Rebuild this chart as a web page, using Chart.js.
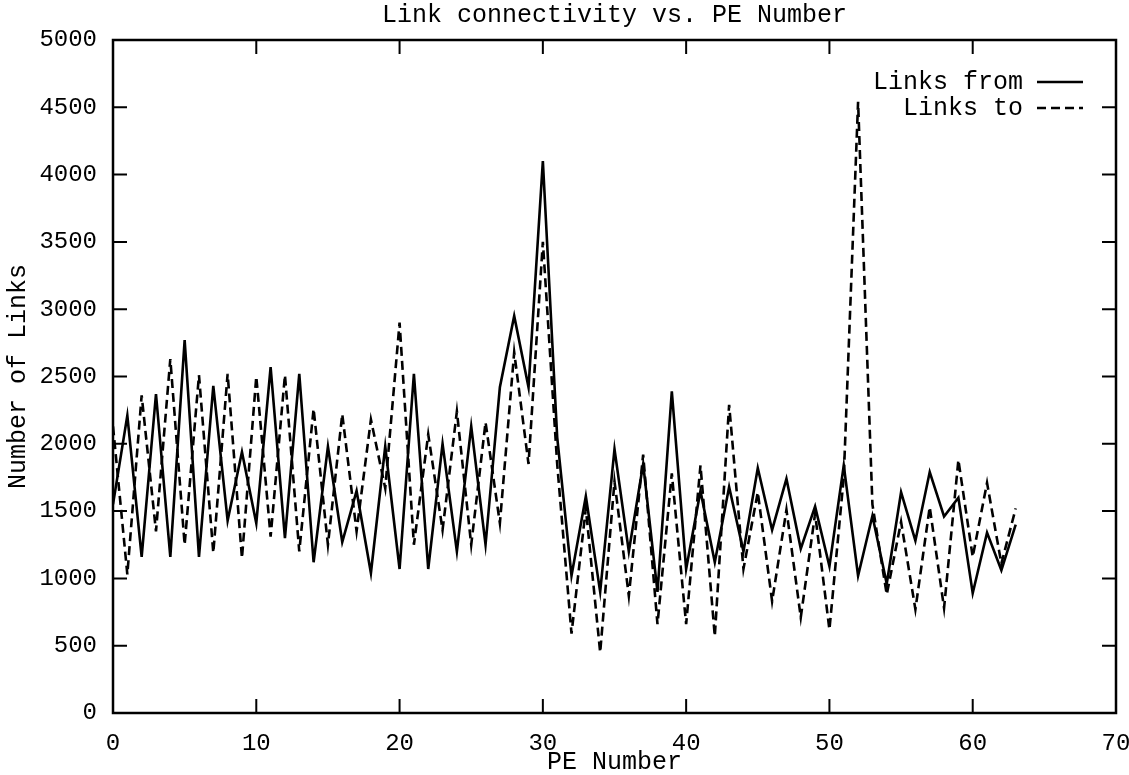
<!DOCTYPE html>
<html>
<head>
<meta charset="utf-8">
<script src="https://cdn.jsdelivr.net/npm/chart.js@4/dist/chart.umd.min.js"></script>
<style>
  html, body { margin: 0; padding: 0; background: #fff; }
  #wrap { width: 1129px; height: 775px; }
</style>
</head>
<body>
<div id="wrap"><canvas id="c" width="1129" height="775"></canvas></div>
<script>
// PE numbers along the x axis
var peNumbers = [0, 1, 2, 3, 4, 5, 6, 7, 8, 9, 10, 11, 12, 13, 14, 15,
  16, 17, 18, 19, 20, 21, 22, 23, 24, 25, 26, 27, 28, 29, 30, 31,
  32, 33, 34, 35, 36, 37, 38, 39, 40, 41, 42, 43, 44, 45, 46, 47,
  48, 49, 50, 51, 52, 53, 54, 55, 56, 57, 58, 59, 60, 61, 62, 63]

// solid line
var linksFrom = [1550, 2210, 1160, 2370, 1160, 2770, 1160, 2430, 1430, 1940, 1410, 2570, 1300, 2520, 1120, 1980,
  1270, 1650, 1040, 1980, 1070, 2520, 1070, 2000, 1200, 2130, 1250, 2420, 2950, 2420, 4100, 2050,
  1020, 1610, 900, 1960, 1200, 1850, 900, 2390, 1070, 1650, 1120, 1680, 1200, 1820, 1360, 1740,
  1220, 1535, 1090, 1840, 1020, 1465, 960, 1640, 1280, 1790, 1460, 1600, 890, 1340, 1060, 1400]

// dashed line
var linksTo = [2130, 1030, 2360, 1350, 2630, 1250, 2510, 1190, 2520, 1150, 2500, 1310, 2510, 1200, 2260, 1250,
  2220, 1350, 2180, 1670, 2900, 1250, 2070, 1360, 2240, 1250, 2160, 1410, 2680, 1850, 3500, 1850,
  590, 1520, 450, 1720, 870, 1920, 660, 1780, 660, 1840, 570, 2290, 1070, 1640, 830, 1510,
  710, 1480, 620, 1750, 4540, 1550, 880, 1420, 770, 1530, 780, 1880, 1160, 1710, 1110, 1520]

var xTicks = [0, 10, 20, 30, 40, 50, 60, 70]
var yTicks = [0, 500, 1000, 1500, 2000, 2500, 3000, 3500, 4000, 4500, 5000]

var FONT = 'Liberation Mono, Courier New, monospace'

function pts(ys){
  return peNumbers.map(function(x, i){ return {x: x, y: ys[i]} })
}

// gnuplot style frame with inward ticks
var framePlugin = {
  id: 'frame',
  afterDatasetsDraw: function(chart){
    var ctx = chart.ctx, a = chart.chartArea
    var sx = chart.scales.x, sy = chart.scales.y
    var tl = 14
    ctx.save()
    ctx.strokeStyle = '#000'
    ctx.lineWidth = 2.5
    ctx.strokeRect(a.left, a.top, a.right - a.left, a.bottom - a.top)
    ctx.lineWidth = 2
    ctx.beginPath()
    yTicks.forEach(function(v){
      var y = sy.getPixelForValue(v)
      ctx.moveTo(a.left, y); ctx.lineTo(a.left + tl, y)
      ctx.moveTo(a.right, y); ctx.lineTo(a.right - tl, y)
    })
    xTicks.forEach(function(v){
      var x = sx.getPixelForValue(v)
      ctx.moveTo(x, a.bottom); ctx.lineTo(x, a.bottom - tl)
      ctx.moveTo(x, a.top); ctx.lineTo(x, a.top + tl)
    })
    ctx.stroke()
    ctx.restore()
  }
}

// legend: text right aligned, line sample after it
var keyPlugin = {
  id: 'key',
  afterDatasetsDraw: function(chart){
    var ctx = chart.ctx, a = chart.chartArea
    var textRight = a.right - 93
    var lineL = a.right - 79, lineR = a.right - 33
    ctx.save()
    ctx.font = '25px ' + FONT
    ctx.fillStyle = '#000'
    ctx.textAlign = 'right'
    ctx.textBaseline = 'middle'
    chart.data.datasets.forEach(function(ds, i){
      var y = a.top + 42 + i * 26
      ctx.fillText(ds.label, textRight, y)
      ctx.strokeStyle = '#000'
      ctx.lineWidth = ds.borderWidth
      ctx.setLineDash(ds.borderDash || [])
      ctx.beginPath()
      ctx.moveTo(lineL, y); ctx.lineTo(lineR, y)
      ctx.stroke()
    })
    ctx.restore()
  }
}

new Chart(document.getElementById('c'), {
  type: 'line',
  data: {
    datasets: [{
      label: 'Links from',
      data: pts(linksFrom),
      borderColor: '#000',
      borderWidth: 2.6,
      pointRadius: 0,
      tension: 0,
      fill: false
    }, {
      label: 'Links to',
      data: pts(linksTo),
      borderColor: '#000',
      borderWidth: 2.6,
      borderDash: [9, 5],
      pointRadius: 0,
      tension: 0,
      fill: false
    }]
  },
  options: {
    responsive: false,
    animation: false,
    layout: { padding: { left: 0, right: 13, top: 0, bottom: 0 } },
    plugins: {
      legend: { display: false },
      tooltip: { enabled: false },
      title: {
        display: true,
        fullSize: false,
        text: 'Link connectivity vs. PE Number',
        color: '#000',
        font: { family: FONT, size: 25, weight: 'normal', lineHeight: 1.2 },
        padding: { top: 0, bottom: 10 }
      }
    },
    scales: {
      x: {
        type: 'linear',
        min: 0,
        max: 70,
        afterBuildTicks: function(s){ s.ticks = xTicks.map(function(v){ return {value: v} }) },
        afterFit: function(s){ s.height = 62; s.paddingLeft = 0; s.paddingRight = 0 },
        grid: { display: false, drawTicks: false },
        border: { display: false },
        ticks: {
          color: '#000', font: { family: FONT, size: 24 }, padding: 16, maxRotation: 0,
          callback: function(v){ return String(v) }
        },
        title: {
          display: true,
          text: 'PE Number',
          color: '#000',
          font: { family: FONT, size: 25, lineHeight: 1.0 },
          padding: { top: 0, bottom: 0 }
        }
      },
      y: {
        type: 'linear',
        min: 0,
        max: 5000,
        afterBuildTicks: function(s){ s.ticks = yTicks.map(function(v){ return {value: v} }) },
        afterFit: function(s){ s.width = 113 },
        grid: { display: false, drawTicks: false },
        border: { display: false },
        ticks: {
          color: '#000', font: { family: FONT, size: 24 }, padding: 16,
          callback: function(v){ return String(v) }
        },
        title: {
          display: true,
          text: 'Number of Links',
          color: '#000',
          font: { family: FONT, size: 25, lineHeight: 1.0 },
          padding: { top: 6, bottom: 0 }
        }
      }
    }
  },
  plugins: [framePlugin, keyPlugin]
})
</script>
</body>
</html>
